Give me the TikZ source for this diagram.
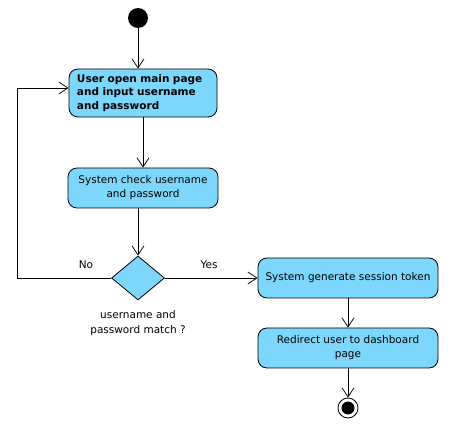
\documentclass[tikz,border=0pt]{standalone}
\usepackage{fontspec}
\setmainfont{DejaVu Sans}
\usetikzlibrary{arrows.meta,shapes.geometric}
\definecolor{actblue}{RGB}{125,215,252}
\begin{document}
\begin{tikzpicture}[x=1pt,y=-1pt,
  act/.style={draw=black, fill=actblue, rounded corners=9pt, line width=0.8pt,
    inner sep=0pt, minimum height=40pt, align=center,
    font=\fontsize{10.5}{14}\selectfont},
  flow/.style={-{Straight Barb[length=9pt,width=12pt]}, line width=0.8pt},
  lbl/.style={font=\fontsize{10.5}{15}\selectfont, align=center, inner sep=0pt}]
\useasboundingbox (0,0) rectangle (459,428);
\node[circle, fill=black, minimum size=20pt, inner sep=0pt] (start) at (138,18) {};
\node[act, minimum width=148pt, minimum height=48pt, text width=132pt, align=left,
  font=\bfseries\fontsize{10.5}{13.5}\selectfont] (b1) at (143,93)
  {User open main page\\and input username\\and password};
\node[act, minimum width=150pt] (b2) at (143,188) {System check username\\and password};
\node[diamond, draw=black, fill=actblue, line width=0.8pt, inner sep=0pt,
  minimum width=53pt, minimum height=44pt] (d) at (138,278) {};
\node[act, minimum width=180pt] (b3) at (348,278) {System generate session token};
\node[act, minimum width=180pt] (b4) at (348,348) {Redirect user to dashboard\\page};
\node[circle, draw=black, fill=white, line width=0.8pt, minimum size=20pt, inner sep=0pt] (end) at (348,408) {};
\node[circle, fill=black, minimum size=13pt, inner sep=0pt] (endin) at (end.center) {};
\node[lbl] (no) at (86,265) {No};
\node[lbl] (yes) at (209,265) {Yes};
\node[lbl] (cap) at (138,323) {username and\\password match ?};
\draw[flow] (start) -- (start |- b1.north);
\draw[flow] (b1.south) -- (b2.north);
\draw[flow] (b2.south -| d.north) -- (d.north);
\draw[flow] (d.east) -- (b3.west);
\draw[flow] (d.west) -- ++(-94,0) |- ([yshift=5pt]b1.west);
\draw[flow] (b3.south) -- (b4.north);
\draw[flow] (b4.south) -- (end.north);
\end{tikzpicture}
\end{document}
